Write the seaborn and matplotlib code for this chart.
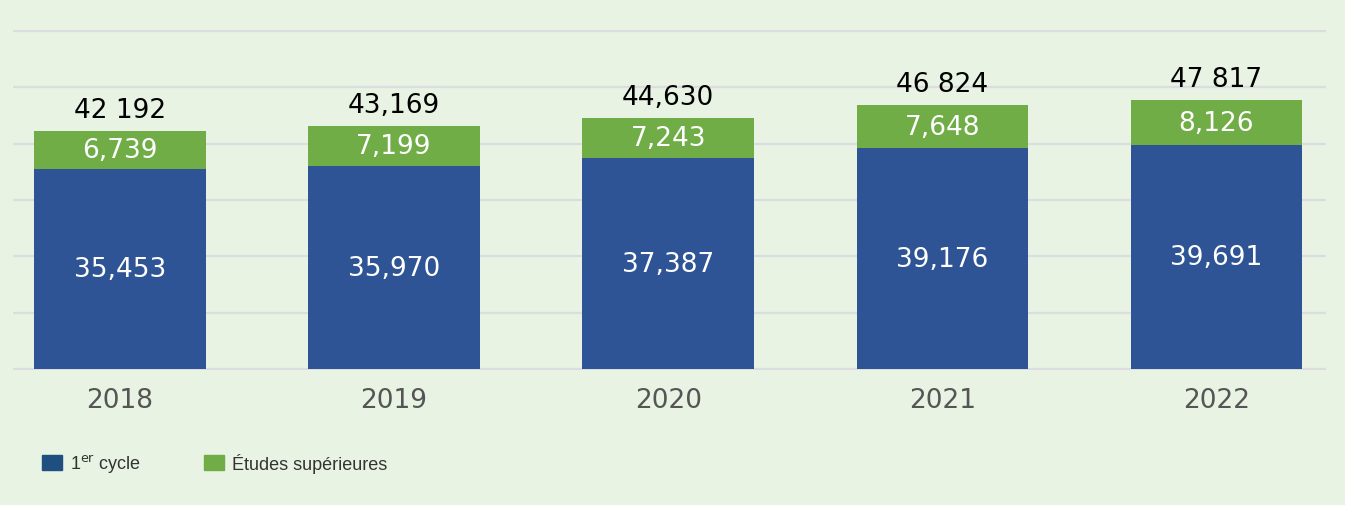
import seaborn as sns
import matplotlib.pyplot as plt
import matplotlib.patches as mpatches
import pandas as pd

years = ["2018", "2019", "2020", "2021", "2022"]
premier_cycle = [35453, 35970, 37387, 39176, 39691]
etudes_sup = [6739, 7199, 7243, 7648, 8126]
total_labels = ["42 192", "43,169", "44,630", "46 824", "47 817"]
premier_labels = ["35,453", "35,970", "37,387", "39,176", "39,691"]
sup_labels = ["6,739", "7,199", "7,243", "7,648", "8,126"]

blue = "#2E5495"
green = "#70AD47"
bg = "#E8F3E3"

df = pd.DataFrame({"year": years, "premier": premier_cycle, "sup": etudes_sup})
df["total"] = df["premier"] + df["sup"]

sns.set_style("white")
plt.rcParams["font.family"] = ["DejaVu Sans"]

fig = plt.figure(figsize=(13.45, 5.06), dpi=100, facecolor=bg)
ax = fig.add_axes([13 / 1345, 134.6 / 506, 1313 / 1345, 340.8 / 506])
ax.set_facecolor(bg)

sns.barplot(data=df, x="year", y="total", color=green, width=0.625,
            saturation=1, linewidth=0, ax=ax, zorder=3)
sns.barplot(data=df, x="year", y="premier", color=blue, width=0.625,
            saturation=1, linewidth=0, ax=ax, zorder=3)

ax.set_ylim(-250, 60250)
ax.set_xlim(-0.39, 4.40)
ax.set_yticks(range(0, 60001, 10000))
ax.yaxis.grid(True, color="#DCDDE0", linewidth=1.6, zorder=0)
ax.set_axisbelow(True)
ax.tick_params(axis="y", length=0, labelleft=False)
ax.tick_params(axis="x", length=0, pad=12, labelsize=19, labelcolor="#555555")
for s in ax.spines.values():
    s.set_visible(False)
ax.set_xlabel("")
ax.set_ylabel("")

for i in range(len(years)):
    p = premier_cycle[i]
    s = etudes_sup[i]
    ax.text(i, p / 2, premier_labels[i], ha="center", va="center",
            color="white", fontsize=19, zorder=5)
    ax.text(i, p + s / 2, sup_labels[i], ha="center", va="center",
            color="white", fontsize=19, zorder=5)
    ax.text(i, p + s + 1400, total_labels[i], ha="center", va="bottom",
            color="black", fontsize=19, zorder=5)

handles = [
    mpatches.FancyBboxPatch((0, 0), 1, 1, boxstyle="round,pad=0.1", color="#1F4E80"),
    mpatches.FancyBboxPatch((0, 0), 1, 1, boxstyle="round,pad=0.1", color=green),
]
leg = fig.legend(handles, ["1$^{\\mathrm{er}}$ cycle", "Études supérieures"],
                 loc="center left", bbox_to_anchor=(0.0193, 0.082), ncol=2,
                 frameon=False, handlelength=1.1, handleheight=0.9,
                 columnspacing=3.5, handletextpad=0.45,
                 prop={"family": ["Liberation Sans Narrow", "Liberation Sans"], "size": 13})
for t in leg.get_texts():
    t.set_color("#333333")

fig.savefig("out.png", dpi=100, facecolor=bg)
